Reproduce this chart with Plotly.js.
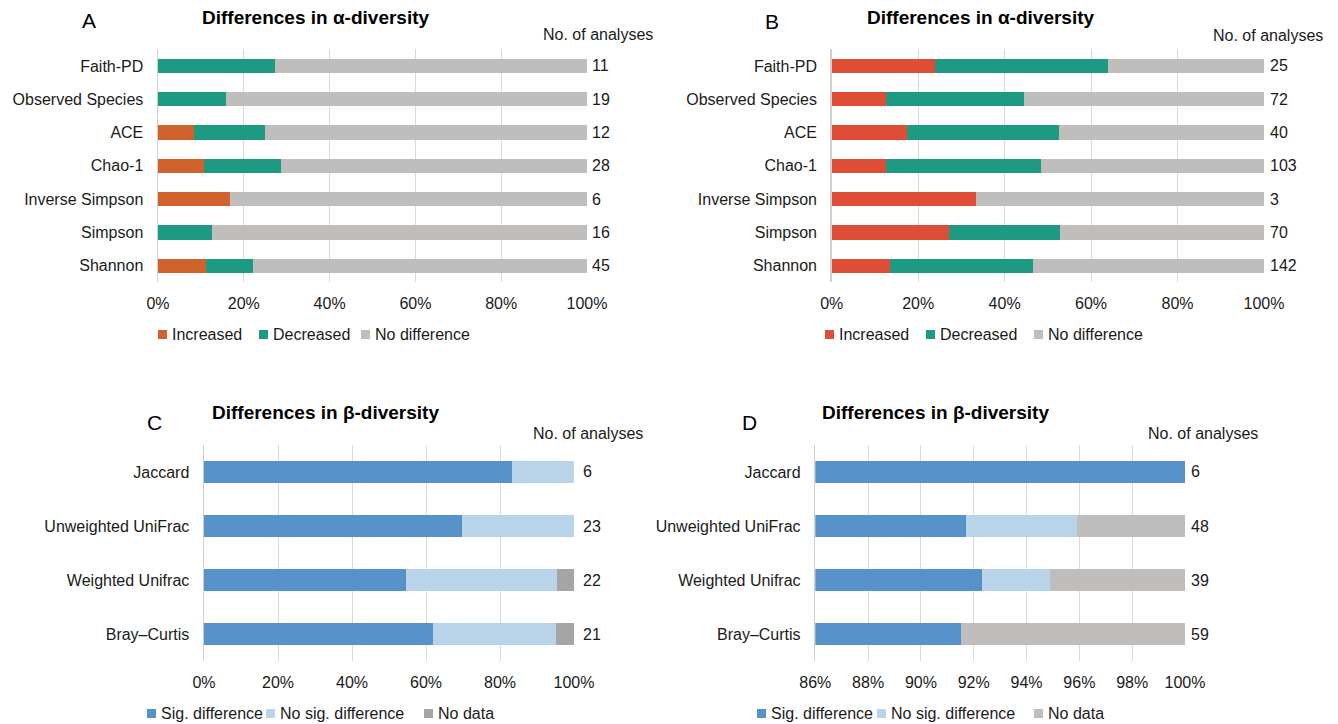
<!DOCTYPE html>
<html>
<head>
<meta charset="utf-8">
<script src="https://cdn.plot.ly/plotly-3.0.1.min.js"></script>
<style>html,body{margin:0;padding:0;background:#fff;overflow:hidden;}#chart{width:1338px;height:724px;}</style>
</head>
<body>
<div id="chart"></div>
<script>
// ---------- data ----------
const alphaCats = ['Faith-PD', 'Observed Species', 'ACE', 'Chao-1', 'Inverse Simpson', 'Simpson', 'Shannon'];
const alphaSeries = ['Increased', 'Decreased', 'No difference'];
const A_increased = [0, 0, 8.3, 10.7, 16.7, 0, 11.1];
const A_decreased = [27.3, 15.8, 16.7, 17.9, 0, 12.5, 11.1];
const A_nodiff    = [72.7, 84.2, 75.0, 71.4, 83.3, 87.5, 77.8];
const A_n = [11, 19, 12, 28, 6, 16, 45];

const B_increased = [24.0, 12.5, 17.5, 12.6, 33.3, 27.1, 13.4];
const B_decreased = [40.0, 31.9, 35.0, 35.9, 0, 25.7, 33.1];
const B_nodiff    = [36.0, 55.6, 47.5, 51.5, 66.7, 47.2, 53.5];
const B_n = [25, 72, 40, 103, 3, 70, 142];

const betaCats = ['Jaccard', 'Unweighted UniFrac', 'Weighted Unifrac', 'Bray\u2013Curtis'];
const betaSeries = ['Sig. difference', 'No sig. difference', 'No data'];
const C_sig    = [83.3, 69.6, 54.5, 61.9];
const C_nosig  = [16.7, 30.4, 40.9, 33.3];
const C_nodata = [0, 0, 4.6, 4.8];
const C_n = [6, 23, 22, 21];

const D_sig    = [100, 91.7, 92.3, 91.5];
const D_nosig  = [0, 4.2, 2.6, 0];
const D_nodata = [0, 4.1, 5.1, 8.5];
const D_n = [6, 48, 39, 59];

const alphaTicks = [0, 20, 40, 60, 80, 100];
const dTicks = [86, 88, 90, 92, 94, 96, 98, 100];

// ---------- styling ----------
const W = 1338, H = 724;
const FONT = 'Liberation Sans, Arial, sans-serif';
const FS = 16;
const TXT = '#1a1a1a';
const px = v => v / W;
const py = v => 1 - v / H;

const colA = ['#D0622C', '#1E9A82', '#BFBEBC'];
const colB = ['#DE4D35', '#1E9A82', '#BFBEBC'];
const colC = ['#5793C9', '#B9D4E9', '#A5A5A5'];
const colD = ['#5793C9', '#B9D4E9', '#BFBEBC'];

const traces = [];
function addPanel(cats, seriesNames, seriesVals, colors, xa, ya, w) {
  seriesVals.forEach((vals, i) => {
    traces.push({
      type: 'bar', orientation: 'h', name: seriesNames[i],
      y: cats, x: vals, xaxis: xa, yaxis: ya,
      width: w, showlegend: false,
      marker: {color: colors[i], line: {width: 0}},
      hoverinfo: 'x+y+name'
    });
  });
}
addPanel(alphaCats, alphaSeries, [A_increased, A_decreased, A_nodiff], colA, 'x', 'y', 0.43);
addPanel(alphaCats, alphaSeries, [B_increased, B_decreased, B_nodiff], colB, 'x2', 'y2', 0.43);
addPanel(betaCats, betaSeries, [C_sig, C_nosig, C_nodata], colC, 'x3', 'y3', 0.40);
addPanel(betaCats, betaSeries, [D_sig, D_nosig, D_nodata], colD, 'x4', 'y4', 0.40);

function xAxis(dom, anchor, range, ticks) {
  return {
    domain: dom, anchor: anchor, range: range,
    tickmode: 'array', tickvals: ticks, ticktext: ticks.map(t => t + '%'),
    showgrid: true, gridcolor: '#D9D9D9', gridwidth: 1,
    zeroline: false, showline: false, ticks: '',
    ticklabelstandoff: 10,
    tickfont: {family: FONT, size: FS, color: TXT},
    fixedrange: true
  };
}
function yAxis(dom, anchor) {
  return {
    domain: dom, anchor: anchor, type: 'category', autorange: 'reversed',
    showgrid: false, zeroline: false, showline: true,
    linecolor: '#CFCFCF', linewidth: 1.5, ticks: '',
    ticklabelstandoff: 10,
    tickfont: {family: FONT, size: FS, color: TXT},
    fixedrange: true
  };
}

const domA = [px(158), px(587)], domB = [px(831.7), px(1264)];
const domC = [px(204), px(574)], domD = [px(815.3), px(1185)];
const yTop = [py(282.3), py(49.3)], yBot = [py(661), py(445)];

const annotations = [];
function txt(text, x, y, opts) {
  annotations.push(Object.assign({
    text: text, x: x, y: y, xref: 'paper', yref: 'paper',
    xanchor: 'center', yanchor: 'middle',
    showarrow: false, font: {family: FONT, size: FS, color: TXT}
  }, opts || {}));
}
const titleFont = {family: FONT, size: 19, color: '#000'};
const letterFont = {family: FONT, size: 21, color: '#000'};
// titles & panel letters
txt('<b>Differences in \u03b1-diversity</b>', px(316), py(18), {font: titleFont});
txt('<b>Differences in \u03b1-diversity</b>', px(981), py(18), {font: titleFont});
txt('<b>Differences in \u03b2-diversity</b>', px(325), py(413), {font: titleFont});
txt('<b>Differences in \u03b2-diversity</b>', px(935), py(413), {font: titleFont});
txt('A', px(89), py(20), {font: letterFont});
txt('B', px(772), py(21), {font: letterFont});
txt('C', px(154), py(422), {font: letterFont});
txt('D', px(750), py(422), {font: letterFont});
// column headers
txt('No. of analyses', px(655), py(34), {xanchor: 'right'});
txt('No. of analyses', px(1325), py(36), {xanchor: 'right'});
txt('No. of analyses', px(645), py(433), {xanchor: 'right'});
txt('No. of analyses', px(1260), py(433), {xanchor: 'right'});

// number of analyses next to each bar
function counts(cats, ns, xref, yref, xmax, shift) {
  cats.forEach((c, i) => {
    annotations.push({
      text: String(ns[i]), x: xmax, y: c, xref: xref, yref: yref,
      xanchor: 'left', yanchor: 'middle', xshift: shift, showarrow: false,
      font: {family: FONT, size: FS, color: TXT}
    });
  });
}
counts(alphaCats, A_n, 'x', 'y', 100, 3);
counts(alphaCats, B_n, 'x2', 'y2', 100, 4);
counts(betaCats, C_n, 'x3', 'y3', 100, 7);
counts(betaCats, D_n, 'x4', 'y4', 100, 4);

// compact legend keys (small square + label), as in the reference
function legendKeys(names, colors, keyX, y) {
  names.forEach((n, i) => {
    annotations.push({
      text: ' ', x: px(keyX[i]), y: py(y), xref: 'paper', yref: 'paper',
      xanchor: 'left', yanchor: 'middle', width: 9, height: 9,
      bgcolor: colors[i], borderpad: 0, borderwidth: 0, showarrow: false,
      font: {family: FONT, size: 6, color: colors[i]}
    });
    txt(n, px(keyX[i] + 12), py(y), {xanchor: 'left'});
  });
}
legendKeys(alphaSeries, colA, [158, 259, 361], 334);
legendKeys(alphaSeries, colB, [825, 926, 1034], 334);
legendKeys(betaSeries, colC, [147, 266, 424], 713);
legendKeys(betaSeries, colD, [757, 877, 1034], 713);

const layout = {
  width: W, height: H,
  margin: {l: 0, r: 0, t: 0, b: 0},
  paper_bgcolor: '#fff', plot_bgcolor: 'rgba(0,0,0,0)',
  font: {family: FONT, size: FS, color: TXT},
  barmode: 'stack', showlegend: false,
  xaxis: xAxis(domA, 'y', [0, 100], alphaTicks),
  yaxis: yAxis(yTop, 'x'),
  xaxis2: xAxis(domB, 'y2', [0, 100], alphaTicks),
  yaxis2: yAxis(yTop, 'x2'),
  xaxis3: xAxis(domC, 'y3', [0, 100], alphaTicks),
  yaxis3: yAxis(yBot, 'x3'),
  xaxis4: xAxis(domD, 'y4', [86, 100], dTicks),
  yaxis4: yAxis(yBot, 'x4'),
  annotations: annotations
};

Plotly.newPlot('chart', traces, layout, {displayModeBar: false, staticPlot: true});
</script>
</body>
</html>
